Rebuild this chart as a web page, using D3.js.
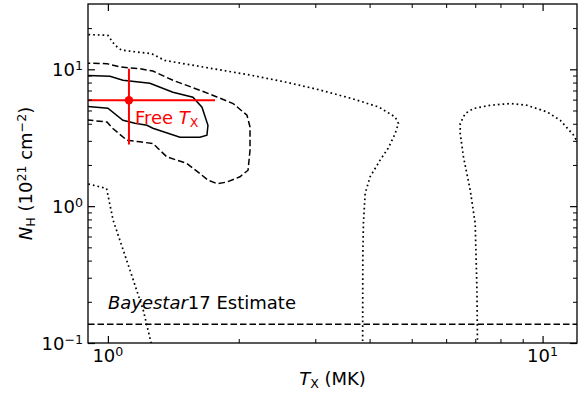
<!DOCTYPE html>
<html>
<head>
<meta charset="utf-8">
<script src="https://cdn.jsdelivr.net/npm/d3@7"></script>
<style>
    body { margin: 0; background: #fff; }
    text { font-family: "DejaVu Sans", sans-serif; }
</style>
</head>
<body>
<svg id="chart" width="579" height="396"></svg>
<script>
// axis ranges: T_X in MK, N_H in 1e21 cm^-2
const tRange = [0.9, 12];
const nRange = [0.1, 30];
const tMajor = [1, 10];
const tMinor = [2, 3, 4, 5, 6, 7, 8, 9];
const nMajor = [0.1, 1, 10];
const nMinor = [0.2, 0.3, 0.4, 0.5, 0.6, 0.7, 0.8, 0.9, 2, 3, 4, 5, 6, 7, 8, 9, 20];

// inner (solid) contour, [T, N]
const innerContour = [
    [0.88, 9.04], [1.011, 8.89], [1.083, 8.31], [1.249, 7.90], [1.411, 6.80],
    [1.569, 6.25], [1.646, 5.28], [1.699, 3.90], [1.690, 3.30], [1.628, 3.19],
    [1.465, 3.19], [1.269, 3.71], [1.230, 3.90], [1.154, 4.03], [1.083, 4.24],
    [1.0, 5.19], [0.88, 5.37]
];

// middle (dashed) contour
const middleContour = [
    [0.88, 11.1], [0.995, 11.0], [1.066, 10.4], [1.185, 10.1], [1.269, 9.72],
    [1.411, 8.31], [1.628, 7.03], [1.782, 6.28], [1.941, 5.62], [2.089, 4.62],
    [2.123, 3.79], [2.123, 2.56], [2.101, 1.83], [2.013, 1.64], [1.879, 1.50],
    [1.782, 1.46], [1.699, 1.55], [1.628, 1.73], [1.520, 2.05], [1.367, 2.29],
    [1.269, 2.87], [1.185, 2.95], [1.106, 3.03], [1.027, 3.69], [0.995, 4.12],
    [0.88, 4.29]
];

// outer (dotted) contour, three pieces
const outerTop = [
    [0.88, 18.0], [1.0, 17.7], [1.038, 15.0], [1.075, 13.8], [1.261, 13.0],
    [1.353, 11.6], [1.795, 9.95], [2.142, 9.04], [2.556, 8.08], [3.050, 7.11],
    [3.640, 6.11], [4.194, 5.31], [4.580, 4.48], [4.660, 4.02], [4.580, 3.39],
    [4.413, 2.65], [4.230, 2.17], [4.011, 1.64], [3.907, 1.238], [3.871, 0.748],
    [3.859, 0.427], [3.855, 0.09]
];
const outerRight = [
    [7.085, 0.09], [7.063, 0.244], [6.998, 0.748], [6.816, 1.309], [6.577, 2.29],
    [6.464, 3.39], [6.464, 4.02], [6.637, 4.75], [6.937, 5.17], [7.58, 5.46],
    [8.43, 5.62], [9.20, 5.46], [10.24, 4.88], [10.98, 4.24], [11.79, 3.30],
    [12.22, 2.65]
];
const outerLeft = [
    [0.88, 1.48], [0.993, 1.346], [1.028, 0.79], [1.124, 0.341], [1.206, 0.174],
    [1.26, 0.097]
];

// best fit with free T_X and its errors
const fitT = 1.118, fitTLo = 0.85, fitTHi = 1.764;
const fitN = 5.94, fitNLo = 2.82, fitNHi = 10.1;

// Bayestar17 reddening estimate
const bayestarN = 0.137;

const W = 579, H = 396;
const margin = {left: 88, right: 2, top: 4, bottom: 53};
const svg = d3.select("#chart");

const x = d3.scaleLog().domain(tRange).range([margin.left, W - margin.right]);
const y = d3.scaleLog().domain(nRange).range([H - margin.bottom, margin.top]);

svg.append("clipPath").attr("id", "plot-clip")
    .append("rect")
    .attr("x", x.range()[0]).attr("y", y.range()[1])
    .attr("width", x.range()[1] - x.range()[0])
    .attr("height", y.range()[0] - y.range()[1]);

const plot = svg.append("g").attr("clip-path", "url(#plot-clip)");
const line = d3.line().x(d => x(d[0])).y(d => y(d[1]));

// contours
plot.append("path").attr("d", line(innerContour))
    .attr("fill", "none").attr("stroke", "#000").attr("stroke-width", 1.5);
plot.append("path").attr("d", line(middleContour))
    .attr("fill", "none").attr("stroke", "#000").attr("stroke-width", 1.5)
    .attr("stroke-dasharray", "6.5,3");
[outerTop, outerRight, outerLeft].forEach(seg => {
    plot.append("path").attr("d", line(seg))
        .attr("fill", "none").attr("stroke", "#000").attr("stroke-width", 1.7)
        .attr("stroke-dasharray", "1.7,3");
});

// bayestar line
plot.append("line")
    .attr("x1", x.range()[0]).attr("x2", x.range()[1])
    .attr("y1", y(bayestarN)).attr("y2", y(bayestarN))
    .attr("stroke", "#000").attr("stroke-width", 1.5)
    .attr("stroke-dasharray", "6.5,3");

// fit point with error bars
const red = "#ff0000";
plot.append("line")
    .attr("x1", x(fitTLo)).attr("x2", x(fitTHi))
    .attr("y1", y(fitN)).attr("y2", y(fitN))
    .attr("stroke", red).attr("stroke-width", 2);
plot.append("line")
    .attr("x1", x(fitT)).attr("x2", x(fitT))
    .attr("y1", y(fitNLo)).attr("y2", y(fitNHi))
    .attr("stroke", red).attr("stroke-width", 2);
plot.append("circle")
    .attr("cx", x(fitT)).attr("cy", y(fitN)).attr("r", 4.2)
    .attr("fill", red);

// writes a label made of parts: {t, i (italic), sub, sup}
function mathText(sel, parts, size) {
    let shift = 0;
    parts.forEach(p => {
        let target = p.sub ? 3 : (p.sup ? -6 : 0);
        let ts = sel.append("tspan")
            .attr("dy", target - shift)
            .attr("font-size", (p.sub || p.sup) ? size * 0.7 : size)
            .text(p.t);
        if (p.i) ts.attr("font-style", "italic");
        shift = target;
    });
}

const fs = 18;

// annotations
let free = svg.append("text")
    .attr("x", x(1.154)).attr("y", y(3.97))
    .attr("fill", red).attr("font-size", fs);
mathText(free, [{t: "Free "}, {t: "T", i: true}, {t: "X", sub: true}], fs);

let bay = svg.append("text")
    .attr("x", x(1.0)).attr("y", y(0.176))
    .attr("font-size", fs);
mathText(bay, [{t: "Bayestar", i: true}, {t: "17 Estimate"}], fs);

// ticks, all inward on four sides
function tickAxis(axisFn, scale, vals, size, tx, ty, sw) {
    let g = svg.append("g")
        .attr("transform", `translate(${tx},${ty})`)
        .call(axisFn(scale).tickValues(vals).tickSizeInner(-size).tickSizeOuter(0).tickFormat(""));
    g.select(".domain").remove();
    g.selectAll("line").attr("stroke-width", sw);
    return g;
}
const x0 = x.range()[0], x1 = x.range()[1], y0 = y.range()[0], y1 = y.range()[1];
tickAxis(d3.axisBottom, x, tMajor, 7, 0, y0, 1.2);
tickAxis(d3.axisBottom, x, tMinor, 4, 0, y0, 1);
tickAxis(d3.axisTop, x, tMajor, 7, 0, y1, 1.2);
tickAxis(d3.axisTop, x, tMinor, 4, 0, y1, 1);
tickAxis(d3.axisLeft, y, nMajor, 7, x0, 0, 1.2);
tickAxis(d3.axisLeft, y, nMinor, 4, x0, 0, 1);
tickAxis(d3.axisRight, y, nMajor, 7, x1, 0, 1.2);
tickAxis(d3.axisRight, y, nMinor, 4, x1, 0, 1);

// frame
svg.append("rect")
    .attr("x", x0).attr("y", y1)
    .attr("width", x1 - x0).attr("height", y0 - y1)
    .attr("fill", "none").attr("stroke", "#000").attr("stroke-width", 1.3);

// tick labels
tMajor.forEach(v => {
    let t = svg.append("text")
        .attr("x", x(v)).attr("y", y0 + 18.5)
        .attr("text-anchor", "middle").attr("font-size", fs);
    mathText(t, [{t: "10"}, {t: String(Math.round(Math.log10(v))).replace("-", "\u2212"), sup: true}], fs);
});
nMajor.forEach(v => {
    let t = svg.append("text")
        .attr("x", x0 - 5).attr("y", y(v) + 6.5)
        .attr("text-anchor", "end").attr("font-size", fs);
    mathText(t, [{t: "10"}, {t: String(Math.round(Math.log10(v))).replace("-", "\u2212"), sup: true}], fs);
});

// axis titles
let xl = svg.append("text")
    .attr("x", (x0 + x1) / 2).attr("y", 385)
    .attr("text-anchor", "middle").attr("font-size", fs);
mathText(xl, [{t: "T", i: true}, {t: "X", sub: true}, {t: " (MK)"}], fs);

let yl = svg.append("text")
    .attr("transform", `translate(32,${(y0 + y1) / 2}) rotate(-90)`)
    .attr("text-anchor", "middle").attr("font-size", fs);
mathText(yl, [{t: "N", i: true}, {t: "H", sub: true}, {t: " (10"}, {t: "21", sup: true},
    {t: " cm"}, {t: "\u22122", sup: true}, {t: ")"}], fs);
</script>
</body>
</html>
